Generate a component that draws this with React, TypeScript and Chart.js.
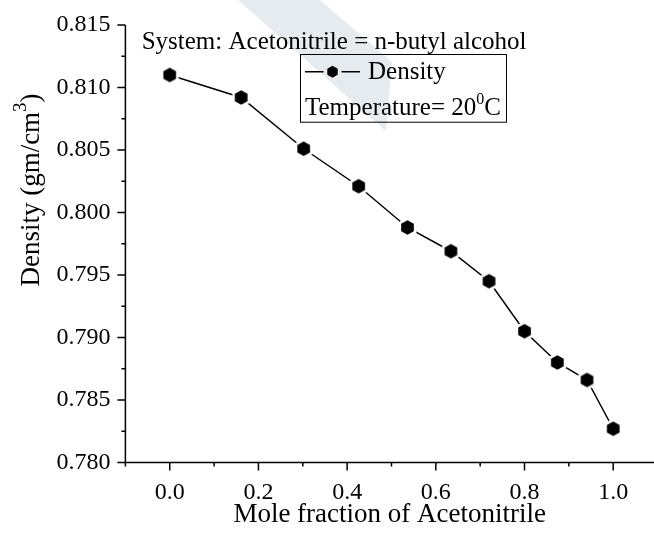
import React, { useEffect, useRef } from "react";
import { Chart, registerables } from "chart.js";

Chart.register(...registerables);

// ---- data ----
const moleFraction = [0, 0.161, 0.302, 0.426, 0.536, 0.634, 0.72, 0.8, 0.874, 0.941, 1.0];
const density = [0.811, 0.8092, 0.8051, 0.8021, 0.7988, 0.7969, 0.7945, 0.7905, 0.788, 0.7866, 0.7827];

const xMajorTicks = [0, 0.2, 0.4, 0.6, 0.8, 1.0];
const xMinorTicks = [-0.1, 0.1, 0.3, 0.5, 0.7, 0.9];
const yMajorTicks = [0.78, 0.785, 0.79, 0.795, 0.8, 0.805, 0.81, 0.815];
const yMinorTicks = [0.7825, 0.7875, 0.7925, 0.7975, 0.8025, 0.8075, 0.8125];

const seriesLabel = "Density";
const xTitle = "Mole fraction of Acetonitrile";
const yTitleParts = ["Density (gm/cm", "3", ")"];
const systemText = "System: Acetonitrile = n-butyl alcohol";
const tempParts = ["Temperature= 20", "0", "C"];

const FONT = '"Liberation Serif", "Times New Roman", Times, serif';

function hexPath(ctx: CanvasRenderingContext2D, cx: number, cy: number, r: number) {
  ctx.beginPath();
  for (let i = 0; i < 6; i++) {
    const a = -Math.PI / 2 + (i * Math.PI) / 3;
    const px = cx + r * Math.cos(a);
    const py = cy + r * Math.sin(a);
    if (i === 0) ctx.moveTo(px, py);
    else ctx.lineTo(px, py);
  }
  ctx.closePath();
}

function makeMarker(r: number, halo: number) {
  const size = Math.ceil((r + halo) * 2 + 2);
  const c = document.createElement("canvas");
  c.width = size;
  c.height = size;
  const g = c.getContext("2d")!;
  const m = size / 2;
  hexPath(g, m, m, r + halo);
  g.fillStyle = "#ffffff";
  g.fill();
  hexPath(g, m, m, r);
  g.fillStyle = "#000000";
  g.fill();
  return c;
}

type Seg = { text: string; size: number; dy: number };

function drawRich(ctx: CanvasRenderingContext2D, segs: Seg[], x: number, y: number) {
  let cx = x;
  ctx.textAlign = "left";
  ctx.textBaseline = "alphabetic";
  for (const s of segs) {
    ctx.font = `${s.size}px ${FONT}`;
    ctx.fillText(s.text, cx, y + s.dy);
    cx += ctx.measureText(s.text).width;
  }
  return cx;
}

function richWidth(ctx: CanvasRenderingContext2D, segs: Seg[]) {
  let w = 0;
  for (const s of segs) {
    ctx.font = `${s.size}px ${FONT}`;
    w += ctx.measureText(s.text).width;
  }
  return w;
}

const decor = {
  id: "decor",
  beforeDraw(chart: any) {
    const ctx: CanvasRenderingContext2D = chart.ctx;
    ctx.save();
    ctx.fillStyle = "#ffffff";
    ctx.fillRect(0, 0, chart.width, chart.height);
    // faint watermark band
    ctx.fillStyle = "#e6ebf0";
    ctx.beginPath();
    ctx.moveTo(238, 0);
    ctx.lineTo(320, 0);
    ctx.lineTo(392, 62);
    ctx.lineTo(386, 131);
    ctx.closePath();
    ctx.fill();
    ctx.restore();
  },
  afterDraw(chart: any) {
    const ctx: CanvasRenderingContext2D = chart.ctx;
    const ca = chart.chartArea;
    const xs = chart.scales.x;
    const ys = chart.scales.y;
    ctx.save();
    ctx.strokeStyle = "#000";
    ctx.fillStyle = "#000";
    ctx.lineWidth = 1.5;
    ctx.lineCap = "butt";
    // axes
    ctx.beginPath();
    ctx.moveTo(ca.left, ca.top);
    ctx.lineTo(ca.left, ca.bottom);
    ctx.lineTo(ca.right, ca.bottom);
    ctx.stroke();
    // y ticks
    ctx.beginPath();
    for (const v of yMajorTicks) {
      const p = ys.getPixelForValue(v);
      ctx.moveTo(ca.left - 8, p);
      ctx.lineTo(ca.left, p);
    }
    for (const v of yMinorTicks) {
      const p = ys.getPixelForValue(v);
      ctx.moveTo(ca.left - 4, p);
      ctx.lineTo(ca.left, p);
    }
    // x ticks
    for (const v of xMajorTicks) {
      const p = xs.getPixelForValue(v);
      ctx.moveTo(p, ca.bottom);
      ctx.lineTo(p, ca.bottom + 8);
    }
    for (const v of xMinorTicks) {
      const p = xs.getPixelForValue(v);
      ctx.moveTo(p, ca.bottom);
      ctx.lineTo(p, ca.bottom + 4);
    }
    ctx.stroke();

    // y title (rotated, with superscript)
    const ySegs: Seg[] = [
      { text: yTitleParts[0], size: 27, dy: 0 },
      { text: yTitleParts[1], size: 19, dy: -13 },
      { text: yTitleParts[2], size: 27, dy: 0 },
    ];
    ctx.save();
    ctx.translate(38.5, 190);
    ctx.rotate(-Math.PI / 2);
    const yw = richWidth(ctx, ySegs);
    drawRich(ctx, ySegs, -yw / 2, 0);
    ctx.restore();

    // system annotation
    drawRich(ctx, [{ text: systemText, size: 25, dy: 0 }], 141.7, 49);

    // legend box
    const boxLeft = 300;
    const boxTop = 54;
    const boxBottom = 121.7;
    const tSegs: Seg[] = [
      { text: tempParts[0], size: 25, dy: 0 },
      { text: tempParts[1], size: 16, dy: -11 },
      { text: tempParts[2], size: 25, dy: 0 },
    ];
    const tEnd = drawRich(ctx, tSegs, 305, 115);
    ctx.lineWidth = 1;
    ctx.strokeRect(boxLeft + 0.5, boxTop + 0.5, tEnd + 5 - boxLeft, boxBottom - boxTop);
    // legend symbol
    const ly = 71.7;
    ctx.lineWidth = 1.5;
    ctx.beginPath();
    ctx.moveTo(305, ly);
    ctx.lineTo(323.5, ly);
    ctx.moveTo(341.5, ly);
    ctx.lineTo(360, ly);
    ctx.stroke();
    hexPath(ctx, 332.5, ly, 6);
    ctx.fill();
    drawRich(ctx, [{ text: seriesLabel, size: 25, dy: 0 }], 368, 79);
    ctx.restore();
  },
};

export default function App() {
  const ref = useRef<HTMLCanvasElement>(null);
  useEffect(() => {
    const marker = makeMarker(7.3, 3);
    const chart = new Chart(ref.current!, {
      type: "line",
      data: {
        datasets: [
          {
            label: seriesLabel,
            data: moleFraction.map((x, i) => ({ x, y: density[i] })),
            borderColor: "#000",
            borderWidth: 1.5,
            backgroundColor: "#000",
            pointStyle: marker as any,
            pointRadius: 7,
            tension: 0,
            fill: false,
          },
        ],
      },
      options: {
        responsive: false,
        animation: false,
        devicePixelRatio: 1,
        layout: { autoPadding: false, padding: { top: 25, right: 0, left: 0, bottom: 0 } },
        plugins: { legend: { display: false }, tooltip: { enabled: false } },
        scales: {
          x: {
            type: "linear",
            min: -0.1,
            max: 1.092,
            grid: { display: false, drawTicks: false },
            border: { display: false },
            afterBuildTicks: (s: any) => {
              s.ticks = xMajorTicks.map((v) => ({ value: v }));
            },
            afterFit: (s: any) => {
              s.height = 80.5;
              s.paddingLeft = 0;
              s.paddingRight = 0;
            },
            ticks: {
              autoSkip: false,
              maxRotation: 0,
              padding: 16,
              color: "#000",
              font: { family: FONT, size: 24 },
              callback: (v: any) => Number(v).toFixed(1),
            },
            title: {
              display: true,
              text: xTitle,
              color: "#000",
              font: { family: FONT, size: 27 },
              padding: { top: 0, bottom: 12 },
            },
          },
          y: {
            type: "linear",
            min: 0.78,
            max: 0.815,
            grid: { display: false, drawTicks: false },
            border: { display: false },
            afterBuildTicks: (s: any) => {
              s.ticks = yMajorTicks.map((v) => ({ value: v }));
            },
            afterFit: (s: any) => {
              s.width = 125.4;
              s.paddingTop = 0;
              s.paddingBottom = 0;
            },
            ticks: {
              autoSkip: false,
              padding: 15,
              color: "#000",
              font: { family: FONT, size: 24 },
              callback: (v: any) => Number(v).toFixed(3),
            },
          },
        },
      },
      plugins: [decor],
    });
    return () => chart.destroy();
  }, []);
  return (
    <div style={{ position: "fixed", left: 0, top: 0, width: 654, height: 543, background: "#fff" }}>
      <canvas ref={ref} width={654} height={543} style={{ display: "block", width: 654, height: 543 }} />
    </div>
  );
}
